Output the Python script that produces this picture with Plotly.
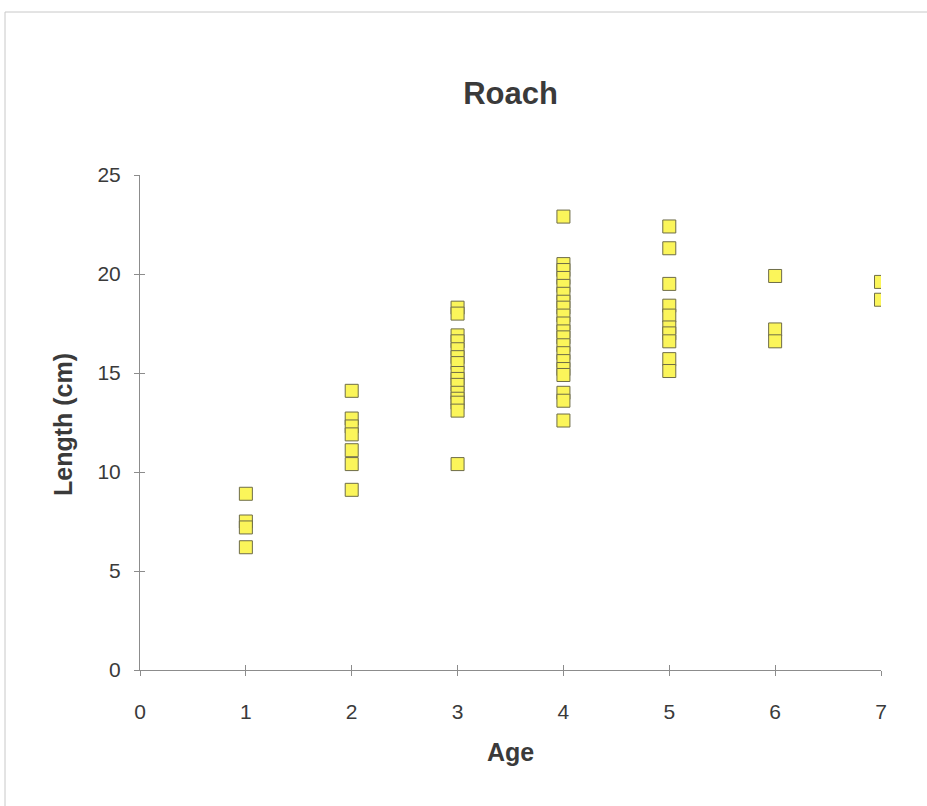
import plotly.graph_objects as go

# Roach length-at-age samples
age_1 = [8.9, 7.5, 7.2, 6.2]
age_2 = [14.1, 12.7, 12.3, 11.9, 11.1, 10.4, 9.1]
age_3 = [18.3, 18.0, 16.9, 16.6, 16.2, 15.8, 15.5, 15.0, 14.7, 14.4, 14.0, 13.7, 13.5, 13.1, 10.4]
age_4 = [22.9, 20.5, 20.2, 19.8, 19.4, 19.0, 18.6, 18.3, 17.9, 17.5, 17.1, 16.8,
         16.4, 16.0, 15.6, 15.2, 14.9, 14.0, 13.6, 12.6]
age_5 = [22.4, 21.3, 19.5, 18.4, 17.9, 17.3, 17.0, 16.6, 15.7, 15.1]
age_6 = [19.9, 17.2, 16.6]
age_7 = [19.6, 18.7]

ages = [1, 2, 3, 4, 5, 6, 7]
lengths_by_age = [age_1, age_2, age_3, age_4, age_5, age_6, age_7]

x_ticks = [0, 1, 2, 3, 4, 5, 6, 7]
y_ticks = [0, 5, 10, 15, 20, 25]

xs, ys = [], []
for a, vals in zip(ages, lengths_by_age):
    xs += [a] * len(vals)
    ys += vals

FONT = "Liberation Sans, Arial, sans-serif"
TEXT = "#3a3a3a"
AXIS = "#8c8c8c"

fig = go.Figure()
fig.add_trace(go.Scatter(
    x=xs, y=ys, mode="markers",
    marker=dict(symbol="square", size=13, color="#fbf55a",
                line=dict(color="#6e6c48", width=1)),
    showlegend=False, hoverinfo="x+y",
))
# companion axes carrying the inward half of each cross tick
fig.add_trace(go.Scatter(x=[], y=[], xaxis="x2", yaxis="y2",
                         showlegend=False, hoverinfo="skip"))

W, H = 927, 806
L, R, T, B = 140, 46, 175, 136
pw, ph = W - L - R, H - T - B

axis_common = dict(showgrid=False, zeroline=False, showline=True,
                   linecolor=AXIS, linewidth=1, tickcolor=AXIS, ticklen=5,
                   tickwidth=1)

fig.update_layout(
    width=W, height=H,
    margin=dict(l=L, r=R, t=T, b=B, pad=0),
    paper_bgcolor="white", plot_bgcolor="white",
    font=dict(family=FONT, color=TEXT, size=21),
    title=dict(text="<b>Roach</b>", x=0.5, xref="paper", xanchor="center",
               y=1 - 93 / H, yref="container", yanchor="middle",
               font=dict(size=31, color=TEXT, family=FONT)),
    xaxis=dict(range=[0, 7], tickvals=x_ticks, ticks="outside",
               tickfont=dict(size=21, color=TEXT), ticklabelstandoff=18,
               **axis_common),
    yaxis=dict(range=[0, 25], tickvals=y_ticks, ticks="outside",
               tickfont=dict(size=21, color=TEXT), ticklabelstandoff=9,
               **axis_common),
    xaxis2=dict(range=[0, 7], tickvals=x_ticks, ticks="inside",
                showticklabels=False, overlaying="x", anchor="y2",
                **axis_common),
    yaxis2=dict(range=[0, 25], tickvals=y_ticks, ticks="inside",
                showticklabels=False, overlaying="y", anchor="x2", side="left",
                **axis_common),
)

# axis titles
fig.add_annotation(text="<b>Age</b>", xref="paper", yref="paper",
                   x=0.5, y=(670 - 752) / ph, xanchor="center", yanchor="middle",
                   showarrow=False, font=dict(size=25, color=TEXT, family=FONT))
fig.add_annotation(text="<b>Length (cm)</b>", xref="paper", yref="paper",
                   x=(63 - L) / pw, y=(670 - 425) / ph, textangle=-90,
                   xanchor="center", yanchor="middle",
                   showarrow=False, font=dict(size=25, color=TEXT, family=FONT))

# thin frame around the chart area
frame = dict(type="line", xref="paper", yref="paper",
             line=dict(color="#c8c8c8", width=1))
fig.add_shape(x0=(5 - L) / pw, x1=(W + 5 - L) / pw,
              y0=(670 - 12) / ph, y1=(670 - 12) / ph, **frame)
fig.add_shape(x0=(5 - L) / pw, x1=(5 - L) / pw,
              y0=(670 - 12) / ph, y1=(670 - H - 5) / ph, **frame)

fig.write_html("out.html")
